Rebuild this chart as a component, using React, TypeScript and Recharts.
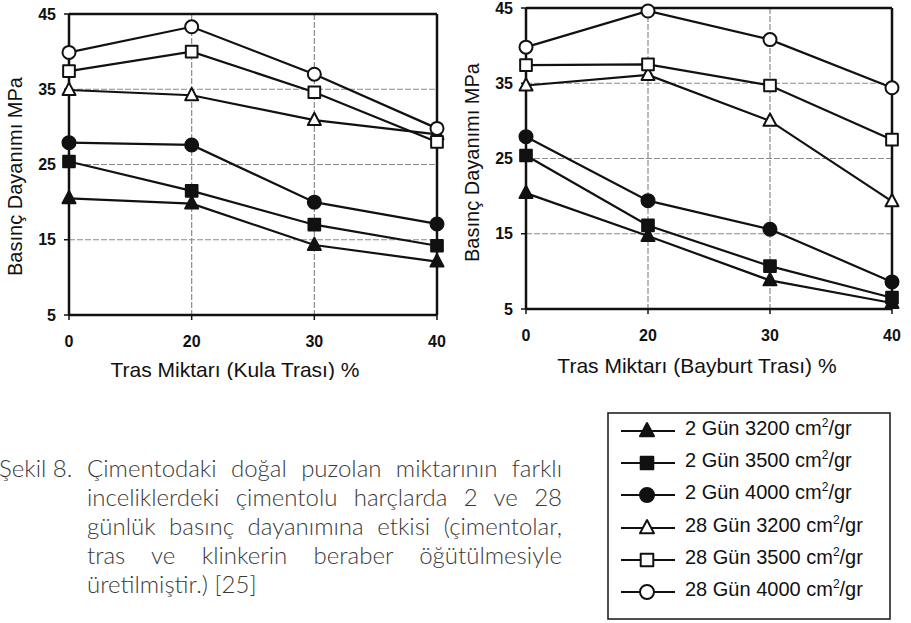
import React from 'react';
import { LineChart, Line, XAxis, YAxis, CartesianGrid, ReferenceLine, Label } from 'recharts';

// % tras in the cement (categorical axis, evenly spaced)
const trasLevels = ['0', '20', '30', '40'];
const strengthTicks = [5, 15, 25, 35, 45];

// Compressive strength, MPa — Kula trası
const kula2d3200 = [20.5, 19.8, 14.3, 12.1];
const kula2d3500 = [25.4, 21.5, 17.0, 14.2];
const kula2d4000 = [27.9, 27.6, 20.0, 17.1];
const kula28d3200 = [34.9, 34.2, 30.9, 29.0];
const kula28d3500 = [37.4, 40.0, 34.6, 28.0];
const kula28d4000 = [39.9, 43.3, 37.0, 29.8];

// Compressive strength, MPa — Bayburt trası
const bayburt2d3200 = [20.4, 14.7, 8.8, 5.8];
const bayburt2d3500 = [25.4, 16.1, 10.7, 6.5];
const bayburt2d4000 = [27.9, 19.4, 15.6, 8.6];
const bayburt28d3200 = [34.7, 36.1, 30.0, 19.3];
const bayburt28d3500 = [37.4, 37.5, 34.7, 27.5];
const bayburt28d4000 = [39.8, 44.6, 40.8, 34.4];

const seriesKeys = ['d2f3200', 'd2f3500', 'd2f4000', 'd28f3200', 'd28f3500', 'd28f4000'];
const seriesNames = ['2 Gün 3200', '2 Gün 3500', '2 Gün 4000', '28 Gün 3200', '28 Gün 3500', '28 Gün 4000'];
const seriesShapes = ['triangle', 'square', 'circle', 'triangle', 'square', 'circle'];
const seriesFilled = [true, true, true, false, false, false];

const captionHead = 'Şekil 8.';
const captionLines = [
  'Çimentodaki doğal puzolan miktarının farklı',
  'inceliklerdeki çimentolu harçlarda 2 ve 28',
  'günlük basınç dayanımına etkisi (çimentolar,',
  'tras ve klinkerin beraber öğütülmesiyle',
  'üretilmiştir.) [25]',
];

const INK = '#111';

function buildRows(series: number[][]) {
  return trasLevels.map((tras, i) => {
    const row: Record<string, string | number> = { tras };
    seriesKeys.forEach((k, j) => { row[k] = series[j][i]; });
    return row;
  });
}

const kulaRows = buildRows([kula2d3200, kula2d3500, kula2d4000, kula28d3200, kula28d3500, kula28d4000]);
const bayburtRows = buildRows([bayburt2d3200, bayburt2d3500, bayburt2d4000, bayburt28d3200, bayburt28d3500, bayburt28d4000]);

function Marker({ cx, cy, shape, filled, size = 13 }: { cx: number; cy: number; shape: string; filled: boolean; size?: number }) {
  if (cx == null || cy == null) return null;
  const fill = filled ? INK : '#fff';
  const common = { fill, stroke: INK, strokeWidth: 2, strokeLinejoin: 'round' as const };
  if (shape === 'triangle') {
    const h = size * 0.95;
    const pts = `${cx},${cy - h * 0.6} ${cx - size / 2},${cy + h * 0.4} ${cx + size / 2},${cy + h * 0.4}`;
    return <polygon points={pts} {...common} />;
  }
  if (shape === 'square') {
    const s = size * 0.9;
    return <rect x={cx - s / 2} y={cy - s / 2} width={s} height={s} {...common} />;
  }
  return <circle cx={cx} cy={cy} r={size / 2} {...common} />;
}

interface PanelProps {
  rows: Record<string, string | number>[];
  width: number;
  margin: { top: number; right: number; bottom: number; left: number };
  yAxisWidth: number;
  xTitle: string;
  xTitleShift: number;
  xTitleGap: number;
  yTitleX: number;
  yTitleShift: number;
}

function Panel({ rows, width, margin, yAxisWidth, xTitle, xTitleShift, xTitleGap, yTitleX, yTitleShift }: PanelProps) {
  return (
    <LineChart width={width} height={380} data={rows} margin={margin}>
      <CartesianGrid stroke="#8a8a8a" strokeDasharray="6 2" strokeWidth={1.2} />
      <XAxis
        dataKey="tras"
        interval={0}
        height={60}
        tickSize={5}
        tickMargin={16}
        axisLine={{ stroke: INK, strokeWidth: 2.5 }}
        tickLine={{ stroke: INK, strokeWidth: 1.5 }}
        tick={{ fontSize: 16, fill: INK, fontWeight: 700 }}
      >
        <Label
          content={(p: any) => {
            const vb = p.viewBox;
            return (
              <text x={vb.x + vb.width / 2 + xTitleShift} y={vb.y + xTitleGap} textAnchor="middle" fontSize={21} fill={INK}>
                {xTitle}
              </text>
            );
          }}
        />
      </XAxis>
      <YAxis
        type="number"
        domain={[5, 45]}
        ticks={strengthTicks}
        interval={0}
        width={yAxisWidth}
        tickSize={5}
        tickMargin={8}
        axisLine={{ stroke: INK, strokeWidth: 2.5 }}
        tickLine={{ stroke: INK, strokeWidth: 1.5 }}
        tick={{ fontSize: 16, fill: INK, fontWeight: 700 }}
      >
        <Label
          content={(p: any) => {
            const vb = p.viewBox;
            const cy = vb.y + vb.height / 2 + yTitleShift;
            return (
              <text x={yTitleX} y={cy} transform={`rotate(-90, ${yTitleX}, ${cy})`} textAnchor="middle" fontSize={20} fill={INK}>
                Basınç Dayanımı MPa
              </text>
            );
          }}
        />
      </YAxis>
      <ReferenceLine y={45} stroke={INK} strokeWidth={2.5} />
      <ReferenceLine x="40" stroke={INK} strokeWidth={2.5} />
      {seriesKeys.map((k, j) => (
        <Line
          key={k}
          dataKey={k}
          name={seriesNames[j]}
          stroke={INK}
          strokeWidth={2.2}
          isAnimationActive={false}
          activeDot={false}
          dot={(d: any) => (
            <Marker key={`${k}-${d.index}`} cx={d.cx} cy={d.cy} shape={seriesShapes[j]} filled={seriesFilled[j]} />
          )}
        />
      ))}
    </LineChart>
  );
}

function LegendBox() {
  const rowY = [431, 463, 495, 528, 560, 592];
  return (
    <svg width={911} height={623} style={{ position: 'absolute', left: 0, top: 0, pointerEvents: 'none' }}>
      <rect x={608} y={413} width={282} height={206} fill="none" stroke="#222" strokeWidth={1.6} />
      {seriesNames.map((name, j) => (
        <g key={name}>
          <line x1={621} x2={675} y1={rowY[j]} y2={rowY[j]} stroke={INK} strokeWidth={2} />
          <Marker cx={647} cy={rowY[j]} shape={seriesShapes[j]} filled={seriesFilled[j]} size={14} />
          <text x={685} y={rowY[j] + 4} fontSize={20} fill={INK}>
            {name} cm
            <tspan fontSize={12} dy={-8}>2</tspan>
            <tspan dy={8}>/gr</tspan>
          </text>
        </g>
      ))}
    </svg>
  );
}

function Caption() {
  const font: React.CSSProperties = {
    fontFamily: 'Lato, sans-serif',
    fontWeight: 300,
    fontSize: 24,
    lineHeight: '29px',
    color: '#3a3a3a',
    whiteSpace: 'nowrap',
  };
  return (
    <div style={{ position: 'absolute', left: 0, top: 453, width: 600, ...font }}>
      <div style={{ position: 'absolute', left: -1, top: 0 }}>{captionHead}</div>
      {captionLines.map((line, i) => (
        <div
          key={i}
          style={{
            position: 'absolute',
            left: 87,
            top: i * 29,
            width: 475,
            textAlign: 'justify',
            textAlignLast: i < captionLines.length - 1 ? 'justify' : 'left',
          }}
        >
          {line}
        </div>
      ))}
    </div>
  );
}

export default function App() {
  return (
    <div
      style={{
        position: 'absolute',
        left: 0,
        top: 0,
        width: 911,
        height: 623,
        overflow: 'hidden',
        background: '#fff',
        fontFamily: '"Liberation Sans", Arial, sans-serif',
      }}
    >
      <div style={{ position: 'absolute', left: 0, top: 0 }}>
        <Panel
          rows={kulaRows}
          width={460}
          margin={{ top: 14, right: 23, bottom: 5, left: 0 }}
          yAxisWidth={69}
          xTitle="Tras Miktarı (Kula Trası) %"
          xTitleShift={-18}
          xTitleGap={62}
          yTitleX={22}
          yTitleShift={12}
        />
      </div>
      <div style={{ position: 'absolute', left: 460, top: 0 }}>
        <Panel
          rows={bayburtRows}
          width={451}
          margin={{ top: 8, right: 19, bottom: 11, left: 0 }}
          yAxisWidth={66}
          xTitle="Tras Miktarı (Bayburt Trası) %"
          xTitleShift={-12}
          xTitleGap={64}
          yTitleX={19}
          yTitleShift={4}
        />
      </div>
      <Caption />
      <LegendBox />
    </div>
  );
}
